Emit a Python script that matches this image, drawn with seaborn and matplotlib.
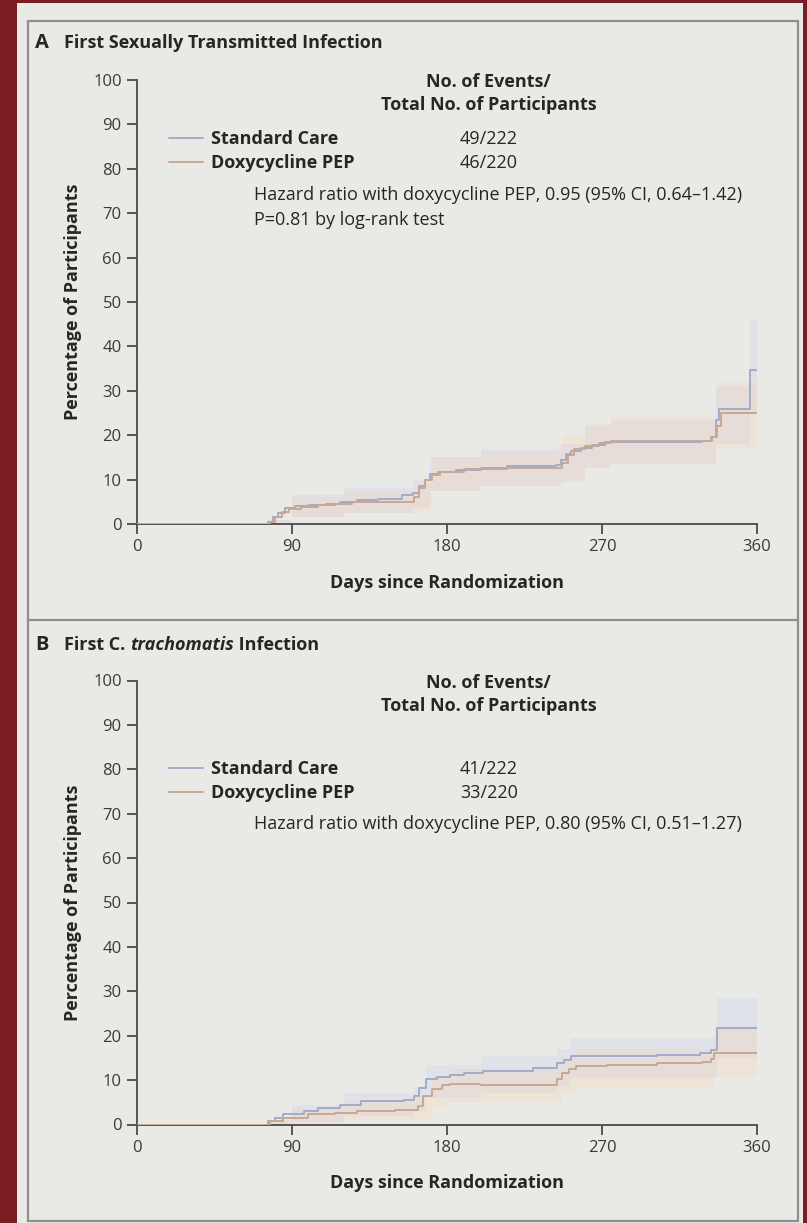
import numpy as np
import pandas as pd
import matplotlib
matplotlib.use("Agg")
import matplotlib.pyplot as plt
import seaborn as sns
from matplotlib.patches import Rectangle
from matplotlib.lines import Line2D

# ---------------- data ----------------
groups = ["Standard Care", "Doxycycline PEP"]

# Panel A: first sexually transmitted infection (cumulative %, step changes)
sc_a_days = [0, 76, 79, 82, 86, 92, 100, 110, 118, 128, 140, 154, 160, 164, 167, 170, 175,
             185, 200, 215, 243, 246, 249, 252, 258, 264, 272, 328, 333, 336, 338, 356, 360]
sc_a_pct = [0, 0.5, 1.5, 2.5, 3.5, 4.0, 4.3, 4.6, 5.0, 5.4, 5.6, 6.5, 7.0, 8.5, 10.0, 11.2, 11.8,
            12.2, 12.6, 13.0, 13.4, 14.5, 15.8, 16.5, 17.2, 17.8, 18.4, 18.8, 19.5, 23.5, 26.0, 34.7, 34.7]
dx_a_days = [0, 77, 80, 84, 88, 95, 105, 115, 125, 161, 164, 167, 171, 176, 190, 215, 247,
             250, 254, 260, 268, 275, 330, 334, 337, 339, 360]
dx_a_pct = [0, 0.5, 1.5, 2.8, 3.4, 3.8, 4.2, 4.6, 5.0, 6.0, 8.0, 10.0, 11.0, 11.8, 12.3, 12.5, 13.8,
            15.5, 16.8, 17.5, 18.2, 18.6, 18.8, 19.6, 22.0, 25.0, 25.0]

sc_a_ci_days = [76, 90, 120, 160, 170, 200, 245, 260, 275, 336, 356, 360]
sc_a_ci_lo = [0, 1.5, 2.5, 3.5, 7.5, 8.5, 9.5, 12.5, 13.5, 18.0, 25.0, 25.0]
sc_a_ci_hi = [1, 6.5, 8.0, 10.0, 15.0, 17.0, 18.0, 22.0, 23.5, 31.0, 46.0, 46.0]
dx_a_ci_days = [77, 90, 120, 161, 171, 200, 247, 260, 275, 337, 360]
dx_a_ci_lo = [0, 1.5, 2.5, 3.0, 7.5, 8.5, 10.0, 12.5, 13.5, 17.0, 17.0]
dx_a_ci_hi = [1, 6.0, 7.5, 9.0, 15.0, 16.5, 20.0, 22.5, 24.0, 32.0, 32.0]

# Panel B: first C. trachomatis infection
sc_b_days = [0, 76, 80, 85, 97, 105, 118, 130, 155, 161, 164, 168, 174, 182, 190, 201, 230,
             244, 248, 252, 302, 327, 333, 337, 360]
sc_b_pct = [0, 0.8, 1.5, 2.3, 3.0, 3.8, 4.5, 5.3, 5.6, 6.4, 8.2, 10.2, 10.8, 11.1, 11.5, 12.0, 12.8,
            13.8, 14.6, 15.4, 15.7, 16.0, 16.8, 21.8, 21.8]
dx_b_days = [0, 77, 85, 99, 115, 128, 150, 163, 166, 171, 177, 182, 199, 244, 247, 251, 255,
             273, 302, 328, 333, 335, 360]
dx_b_pct = [0, 0.7, 1.5, 2.3, 2.6, 3.0, 3.2, 4.2, 6.4, 7.9, 8.8, 9.2, 9.0, 10.3, 11.7, 12.6, 13.2,
            13.5, 13.8, 14.1, 14.8, 16.2, 16.2]

sc_b_ci_days = [76, 90, 120, 161, 168, 200, 244, 252, 337, 360]
sc_b_ci_lo = [0, 0.5, 2.0, 3.0, 6.0, 7.0, 8.5, 10.5, 15.0, 15.0]
sc_b_ci_hi = [1, 4.5, 7.0, 8.5, 13.5, 15.5, 17.0, 19.5, 28.5, 28.5]
dx_b_ci_days = [77, 90, 120, 163, 171, 182, 247, 255, 335, 360]
dx_b_ci_lo = [0, 0.2, 1.0, 1.2, 4.0, 5.0, 7.0, 8.5, 11.0, 11.0]
dx_b_ci_hi = [1, 3.5, 5.0, 6.0, 11.0, 12.5, 15.0, 17.0, 22.0, 22.0]

events_a = ["49/222", "46/220"]
events_b = ["41/222", "33/220"]
title_a = "First Sexually Transmitted Infection"
hr_a = ["Hazard ratio with doxycycline PEP, 0.95 (95% CI, 0.64\u20131.42)",
        "P=0.81 by log-rank test"]
hr_b = ["Hazard ratio with doxycycline PEP, 0.80 (95% CI, 0.51\u20131.27)"]
x_ticks = [0, 90, 180, 270, 360]
y_ticks = list(range(0, 101, 10))

# ---------------- style ----------------
sns.set_theme(style="ticks")
plt.rcParams["font.family"] = ["Open Sans", "DejaVu Sans"]

W, H = 807, 1223
RED = "#7a1c22"
PAGE = "#e9eae6"
FRAME = "#8e8f8d"
AXC = "#4a4a4a"
TXT = "#262626"
TICKTXT = "#3a3a3a"
SC_LINE = "#a3abc9"
DX_LINE = "#c9a892"
SC_BAND = "#c8d2f0"
DX_BAND = "#f6d6bb"
palette = {groups[0]: SC_LINE, groups[1]: DX_LINE}
FS = 13

fig = plt.figure(figsize=(W / 100, H / 100), dpi=100)
fig.patch.set_facecolor(RED)
fig.add_artist(Rectangle((17 / W, 0), (803 - 17) / W, 1 - 3 / H, transform=fig.transFigure,
                         facecolor=PAGE, edgecolor="none", zorder=0))
fig.add_artist(Rectangle((28 / W, 1 - 1221 / H), (798 - 28) / W, (1221 - 21) / H,
                         transform=fig.transFigure, facecolor="none", edgecolor=FRAME,
                         linewidth=1.6, zorder=1))
fig.add_artist(Line2D([28 / W, 798 / W], [1 - 620 / H, 1 - 620 / H], transform=fig.transFigure,
                      color=FRAME, linewidth=1.6, zorder=1))


def draw_panel(ax, sc_days, sc_pct, dx_days, dx_pct, sc_ci, dx_ci):
    ax.set_facecolor("none")
    ax.fill_between(sc_ci[0], sc_ci[1], sc_ci[2], step="post", color=SC_BAND,
                    alpha=0.3, linewidth=0, zorder=1)
    ax.fill_between(dx_ci[0], dx_ci[1], dx_ci[2], step="post", color=DX_BAND,
                    alpha=0.35, linewidth=0, zorder=1)
    df = pd.concat([
        pd.DataFrame({"day": sc_days, "pct": sc_pct, "group": groups[0]}),
        pd.DataFrame({"day": dx_days, "pct": dx_pct, "group": groups[1]}),
    ], ignore_index=True)
    sns.lineplot(data=df, x="day", y="pct", hue="group", palette=palette, estimator=None,
                 sort=False, drawstyle="steps-post", linewidth=1.4, legend=False, ax=ax,
                 zorder=3)
    ax.set_xlim(0, 360)
    ax.set_ylim(0, 100)
    ax.set_xticks(x_ticks)
    ax.set_yticks(y_ticks)
    ax.tick_params(direction="out", length=7, width=1.3, color=AXC, labelsize=12,
                   labelcolor=TICKTXT, pad=4)
    sns.despine(ax=ax)
    for s in ("left", "bottom"):
        ax.spines[s].set_color(AXC)
        ax.spines[s].set_linewidth(1.3)
    ax.set_xlabel("Days since Randomization", fontsize=FS, fontweight="bold", color=TXT)
    ax.set_ylabel("Percentage of Participants", fontsize=FS, fontweight="bold", color=TXT)
    ax.xaxis.set_label_coords(0.5, -0.112)
    ax.yaxis.set_label_coords(-0.088, 0.5)
    handles = [Line2D([], [], color=SC_LINE, lw=1.4), Line2D([], [], color=DX_LINE, lw=1.4)]
    return handles


def annotate(ax, handles, y_head, y_rows, events, hr_lines, y_hr):
    ax.text(0.567, y_head, "No. of Events/", transform=ax.transAxes, ha="center", va="center",
            fontsize=FS, fontweight="bold", color=TXT)
    ax.text(0.567, y_head - 0.052, "Total No. of Participants", transform=ax.transAxes,
            ha="center", va="center", fontsize=FS, fontweight="bold", color=TXT)
    leg = ax.legend(handles, groups, loc="center left", bbox_to_anchor=(0.052, np.mean(y_rows)),
                    frameon=False, handlelength=1.85, handletextpad=0.45, labelspacing=0.33,
                    borderpad=0, borderaxespad=0, prop={"weight": "bold", "size": FS})
    for t in leg.get_texts():
        t.set_color(TXT)
    for y, e in zip(y_rows, events):
        ax.text(0.521, y, e, transform=ax.transAxes, ha="left", va="center", fontsize=FS,
                color=TXT)
    for i, line in enumerate(hr_lines):
        ax.text(0.189, y_hr - i * 0.056, line, transform=ax.transAxes, ha="left", va="center",
                fontsize=FS, color=TXT)


ax_a = fig.add_axes([137 / W, 1 - 524 / H, 620 / W, 444 / H])
h = draw_panel(ax_a, sc_a_days, sc_a_pct, dx_a_days, dx_a_pct,
               (sc_a_ci_days, sc_a_ci_lo, sc_a_ci_hi), (dx_a_ci_days, dx_a_ci_lo, dx_a_ci_hi))
annotate(ax_a, h, 0.996, (0.866, 0.813), events_a, hr_a, 0.741)

ax_b = fig.add_axes([137 / W, 1 - 1124.5 / H, 620 / W, 444 / H])
h = draw_panel(ax_b, sc_b_days, sc_b_pct, dx_b_days, dx_b_pct,
               (sc_b_ci_days, sc_b_ci_lo, sc_b_ci_hi), (dx_b_ci_days, dx_b_ci_lo, dx_b_ci_hi))
annotate(ax_b, h, 0.994, (0.801, 0.747), events_b, hr_b, 0.677)

# panel titles
fig.text(35 / W, 1 - 43 / H, "A", fontsize=14.5, fontweight="bold", color=TXT, va="center")
fig.text(64 / W, 1 - 43 / H, title_a, fontsize=FS, fontweight="bold", color=TXT, va="center")
fig.text(35 / W, 1 - 645 / H, "B", fontsize=14.5, fontweight="bold", color=TXT, va="center")

renderer = fig.canvas.get_renderer()
x = 64 / W
for piece, style in (("First C. ", "normal"), ("trachomatis", "italic"), (" Infection", "normal")):
    t = fig.text(x, 1 - 645 / H, piece, fontsize=FS, fontweight="bold", fontstyle=style,
                 color=TXT, va="center")
    bb = t.get_window_extent(renderer=renderer)
    x += bb.width / fig.bbox.width

fig.savefig("out.png", dpi=100, facecolor=fig.get_facecolor())
